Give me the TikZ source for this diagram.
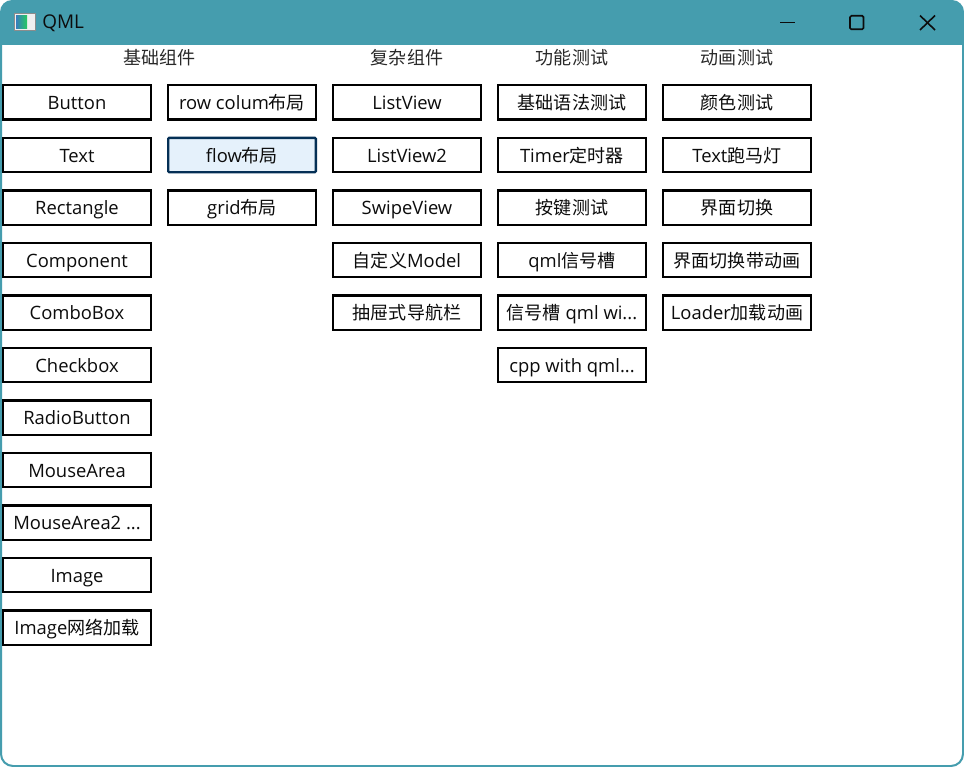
\documentclass[tikz,border=0pt]{standalone}
\usepackage{fontspec}
\setmainfont{Open Sans}
\newfontfamily\cj[Scale=0.98]{Noto Sans CJK SC}
\definecolor{teal1}{HTML}{459DAE}
\definecolor{ink}{HTML}{0C0C0C}
\definecolor{hotfill}{HTML}{E5F1FB}
\definecolor{hotedge}{HTML}{042F55}
\newcommand{\zh}[1]{{\cj #1}}
\tikzset{
  x=0.75pt,y=-0.75pt,
  btn/.style={draw=black,line width=1.7pt,fill=white,minimum width=110.8pt,minimum height=25.7pt,inner sep=0pt,text=ink,text height=11.3pt,text depth=0.2pt,font=\fontsize{13.8pt}{15pt}\selectfont,anchor=center},
  hot/.style={btn,fill=hotfill,draw=hotedge,rounded corners=0.8pt},
  hdr/.style={inner sep=0pt,text=ink!88,font=\fontsize{13.8pt}{15pt}\selectfont,anchor=center},
  title/.style={inner sep=0pt,text=ink,font=\fontsize{14.2pt}{15pt}\selectfont,anchor=west},
  ctl/.style={draw=ink,line width=1.2pt}
}
\begin{document}
\begin{tikzpicture}
\useasboundingbox (0,0) rectangle (964,767);
\fill[white] (0,0) rectangle (964,767);
\draw[teal1,line width=1.5pt,fill=white,rounded corners=9pt] (1,10) rectangle (963,766);
\fill[teal1,rounded corners=9pt] (0,45) -- (0,0) -- (964,0) -- (964,45) -- cycle;
\fill[teal1] (0,25) rectangle (964,45);
% title bar
\node[fill=white!88!gray,draw=black!45,line width=0.5pt,minimum width=15.8pt,minimum height=12.8pt,inner sep=0pt] (icon) at (24.5,22) {};
\shade[left color=teal1!80!blue,right color=teal1!55!green] (16,15.5) rectangle (27,28.5);
\node[title] (ttl) at (42,23.5) {QML};
\draw[ctl] (780,22.5) -- (795,22.5);
\draw[ctl,rounded corners=1pt] (850,15.8) rectangle (863.5,29.3);
\draw[ctl] (920,15.5) -- (935,30);
\draw[ctl] (935,15.5) -- (920,30);
% headers
\node[hdr] (h1) at (159.5,57.5) {\zh{基础组件}};
\node[hdr] (h2) at (407,57.5) {\zh{复杂组件}};
\node[hdr] (h3) at (572,57.5) {\zh{功能测试}};
\node[hdr] (h4) at (737,57.5) {\zh{动画测试}};
% column 1
\node[btn] (a1) at (77,102.5) {Button};
\node[btn] (a2) at (77,155) {Text};
\node[btn] (a3) at (77,207.5) {Rectangle};
\node[btn] (a4) at (77,260) {Component};
\node[btn] (a5) at (77,312.5) {ComboBox};
\node[btn] (a6) at (77,365) {Checkbox};
\node[btn] (a7) at (77,417.5) {RadioButton};
\node[btn] (a8) at (77,470) {MouseArea};
\node[btn] (a9) at (77,522.5) {MouseArea2 ...};
\node[btn] (a10) at (77,575) {Image};
\node[btn] (a11) at (77,627.5) {Image\zh{网络加载}};
% column 2
\node[btn] (b1) at (242,102.5) {row colum\zh{布局}};
\node[hot] (b2) at (242,155) {flow\zh{布局}};
\node[btn] (b3) at (242,207.5) {grid\zh{布局}};
% column 3
\node[btn] (c1) at (407,102.5) {ListView};
\node[btn] (c2) at (407,155) {ListView2};
\node[btn] (c3) at (407,207.5) {SwipeView};
\node[btn] (c4) at (407,260) {\zh{自定义}Model};
\node[btn] (c5) at (407,312.5) {\zh{抽屉式导航栏}};
% column 4
\node[btn] (d1) at (572,102.5) {\zh{基础语法测试}};
\node[btn] (d2) at (572,155) {Timer\zh{定时器}};
\node[btn] (d3) at (572,207.5) {\zh{按键测试}};
\node[btn] (d4) at (572,260) {qml\zh{信号槽}};
\node[btn] (d5) at (572,312.5) {\zh{信号槽} qml wi...};
\node[btn] (d6) at (572,365) {cpp with qml...};
% column 5
\node[btn] (e1) at (737,102.5) {\zh{颜色测试}};
\node[btn] (e2) at (737,155) {Text\zh{跑马灯}};
\node[btn] (e3) at (737,207.5) {\zh{界面切换}};
\node[btn] (e4) at (737,260) {\zh{界面切换带动画}};
\node[btn] (e5) at (737,312.5) {Loader\zh{加载动画}};
\end{tikzpicture}
\end{document}
